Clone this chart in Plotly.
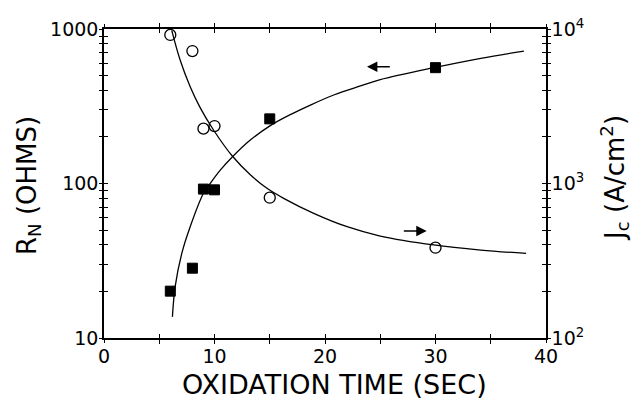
import plotly.graph_objects as go
import math

# ---- data ----
time_sq = [6, 8, 9, 10, 15, 30]
rn_vals = [20.1, 28.3, 92, 91, 262, 562]
time_ci = [6, 8, 9, 10, 15, 30]
jc_vals = [9150, 7200, 2265, 2355, 809, 384]

# fitted curves
rn_fit_t = [6.19, 6.44, 7.04, 7.8, 9.0, 9.61, 10.52, 11.63, 13.24, 15.05, 16.86, 18.68, 20.79, 23.21, 25.0, 29.86, 34.1, 38.0]
rn_fit_v = [13.7, 21.5, 35.3, 52.5, 86.4, 100, 122, 149, 191, 237, 279, 322, 374, 428, 470, 562, 646, 720]
jc_fit_t = [6.13, 6.89, 7.8, 8.7, 9.91, 11.63, 13.24, 14.75, 16.26, 18.98, 22.0, 25.0, 29.86, 34.1, 38.2]
jc_fit_v = [9800, 6300, 4230, 3100, 2220, 1500, 1140, 931, 802, 641, 525, 457, 400, 371, 353]

# arrows: (tail_x, head_x, value)
arrow_rn = (26.0, 23.8, 570)
arrow_jc = (27.0, 29.2, 493)

x_ticks = [0, 5, 10, 15, 20, 25, 30, 35, 40]
x_ticktext = ["0", " ", "10", " ", "20", " ", "30", " ", "40"]
rn_ticks = [10, 20, 30, 40, 50, 60, 70, 80, 90, 100, 200, 300, 400, 500, 600, 700, 800, 900, 1000]
rn_ticktext = ["10"] + [" "] * 8 + ["100"] + [" "] * 8 + ["1000"]
jc_ticks = [100, 200, 300, 400, 500, 600, 700, 800, 900, 1000, 2000, 3000, 4000, 5000, 6000, 7000, 8000, 9000, 10000]
jc_ticktext = ["10<sup>2</sup>"] + [" "] * 8 + ["10<sup>3</sup>"] + [" "] * 8 + ["10<sup>4</sup>"]

x_title = "OXIDATION TIME (SEC)"
rn_title = "R<sub>N</sub> (OHMS)"
jc_title = "J<sub>c</sub> (A/cm<sup>2</sup>)"

FONT = "DejaVu Sans"
BLK = "black"

fig = go.Figure()
fig.add_trace(go.Scatter(x=rn_fit_t, y=rn_fit_v, mode="lines", line=dict(color=BLK, width=1.3, shape="spline"),
                         xaxis="x", yaxis="y", showlegend=False, hoverinfo="skip"))
fig.add_trace(go.Scatter(x=jc_fit_t, y=jc_fit_v, mode="lines", line=dict(color=BLK, width=1.3, shape="spline"),
                         xaxis="x", yaxis="y2", showlegend=False, hoverinfo="skip"))
fig.add_trace(go.Scatter(x=time_sq, y=rn_vals, mode="markers",
                         marker=dict(symbol="square", size=10, color=BLK, line=dict(color=BLK, width=1)),
                         xaxis="x", yaxis="y", showlegend=False))
fig.add_trace(go.Scatter(x=time_ci, y=jc_vals, mode="markers",
                         marker=dict(symbol="circle-open", size=11, color=BLK, line=dict(color=BLK, width=1.3)),
                         xaxis="x", yaxis="y2", showlegend=False))
# empty traces so the outside-tick overlay axes get drawn
fig.add_trace(go.Scatter(x=[None], y=[None], xaxis="x2", yaxis="y", showlegend=False, hoverinfo="skip"))
fig.add_trace(go.Scatter(x=[None], y=[None], xaxis="x", yaxis="y3", showlegend=False, hoverinfo="skip"))
fig.add_trace(go.Scatter(x=[None], y=[None], xaxis="x", yaxis="y4", showlegend=False, hoverinfo="skip"))

tickfont = dict(family=FONT, size=19, color=BLK)
TL, TW = 4, 1.3
base = dict(showgrid=False, zeroline=False, automargin=False, tickmode="array",
            ticklen=TL, tickwidth=TW, tickcolor=BLK)
xb = dict(base, range=[0, 40], tickvals=x_ticks)
rb = dict(base, type="log", range=[1, 3], tickvals=rn_ticks)
jb = dict(base, type="log", range=[2, 4], tickvals=jc_ticks)

fig.update_layout(
    template="none",
    width=641, height=401,
    margin=dict(l=96, r=103, t=21, b=71, autoexpand=False),
    paper_bgcolor="white", plot_bgcolor="white",
    font=dict(family=FONT, color=BLK),
    xaxis=dict(xb, ticks="inside", ticktext=x_ticktext, tickfont=tickfont,
               showline=True, linecolor=BLK, linewidth=1.5, mirror="allticks"),
    xaxis2=dict(xb, overlaying="x", side="bottom", anchor="y", ticks="outside",
                showticklabels=False, showline=False, mirror="allticks"),
    yaxis=dict(rb, ticks="inside", ticktext=rn_ticktext, tickfont=tickfont,
               showline=True, linecolor=BLK, linewidth=1.5, side="left", anchor="x"),
    yaxis3=dict(rb, overlaying="y", side="left", anchor="x", ticks="outside",
                showticklabels=False, showline=False),
    yaxis2=dict(jb, overlaying="y", side="right", anchor="x", ticks="inside",
                ticktext=jc_ticktext, tickfont=tickfont,
                showline=True, linecolor=BLK, linewidth=1.5),
    yaxis4=dict(jb, overlaying="y", side="right", anchor="x", ticks="outside",
                showticklabels=False, showline=False),
)

# axis titles
fig.add_annotation(text=x_title, xref="paper", yref="paper", x=0.5226, y=-0.152,
                   xanchor="center", yanchor="middle", showarrow=False,
                   font=dict(family=FONT, size=27, color=BLK))
fig.add_annotation(text=rn_title, xref="paper", yref="paper", x=-0.172, y=0.495, textangle=-90,
                   xanchor="center", yanchor="middle", showarrow=False,
                   font=dict(family=FONT, size=26, color=BLK))
fig.add_annotation(text=jc_title, xref="paper", yref="paper", x=1.156, y=0.518, textangle=-90,
                   xanchor="center", yanchor="middle", showarrow=False,
                   font=dict(family=FONT, size=26, color=BLK))

# arrows pointing to the axis each curve belongs to
fig.add_annotation(x=arrow_rn[1], y=math.log10(arrow_rn[2]), ax=arrow_rn[0], ay=math.log10(arrow_rn[2]),
                   xref="x", yref="y", axref="x", ayref="y", text="", showarrow=True,
                   arrowhead=2, arrowsize=1.3, arrowwidth=1.6, arrowcolor=BLK)
fig.add_annotation(x=arrow_jc[1], y=math.log10(arrow_jc[2]), ax=arrow_jc[0], ay=math.log10(arrow_jc[2]),
                   xref="x", yref="y2", axref="x", ayref="y2", text="", showarrow=True,
                   arrowhead=2, arrowsize=1.3, arrowwidth=1.6, arrowcolor=BLK)

fig.write_html("out.html")
